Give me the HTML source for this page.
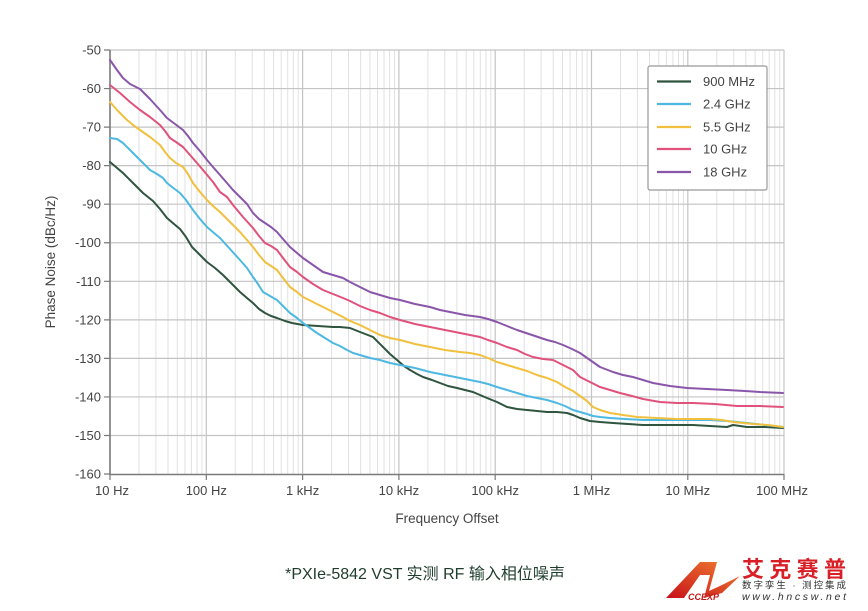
<!DOCTYPE html>
<html><head><meta charset="utf-8"><style>
html,body{margin:0;padding:0;background:#fff;}
body{width:868px;height:611px;overflow:hidden;position:relative;}
svg{position:absolute;left:0;top:0;}
</style></head><body>
<svg width="868" height="611" viewBox="0 0 868 611" xmlns="http://www.w3.org/2000/svg" font-family="'Liberation Sans', 'Noto Sans CJK SC', sans-serif">
<rect x="0" y="0" width="868" height="611" fill="#fff"/>
<!-- minor vertical grid -->
<path stroke="#e2e2e2" stroke-width="1" fill="none" d="
M139,50V474 M155.9,50V474 M168,50V474 M177.3,50V474 M184.9,50V474 M191.4,50V474 M197,50V474 M201.9,50V474
M235.3,50V474 M252.2,50V474 M264.3,50V474 M273.6,50V474 M281.2,50V474 M287.7,50V474 M293.3,50V474 M298.2,50V474
M331.6,50V474 M348.5,50V474 M360.6,50V474 M369.9,50V474 M377.5,50V474 M384,50V474 M389.6,50V474 M394.5,50V474
M427.9,50V474 M444.8,50V474 M456.9,50V474 M466.2,50V474 M473.8,50V474 M480.3,50V474 M485.9,50V474 M490.8,50V474
M524.2,50V474 M541.1,50V474 M553.2,50V474 M562.5,50V474 M570.1,50V474 M576.6,50V474 M582.2,50V474 M587.1,50V474
M620.5,50V474 M637.4,50V474 M649.5,50V474 M658.8,50V474 M666.4,50V474 M672.9,50V474 M678.5,50V474 M683.4,50V474
M716.8,50V474 M733.7,50V474 M745.8,50V474 M755.1,50V474 M762.7,50V474 M769.2,50V474 M774.8,50V474 M779.7,50V474"/>
<!-- major grid -->
<path stroke="#c4c4c4" stroke-width="1.2" fill="none" d="
M206.3,50V474 M302.6,50V474 M398.9,50V474 M495.2,50V474 M591.5,50V474 M687.8,50V474 M784,50V474
M110,88.55H784 M110,127.1H784 M110,165.65H784 M110,204.2H784 M110,242.75H784 M110,281.3H784 M110,319.85H784 M110,358.4H784 M110,396.95H784 M110,435.5H784 M110,50H784"/>
<!-- axes -->
<path stroke="#7a7a7a" stroke-width="1.6" fill="none" d="M110,50V474.5H784"/>
<path stroke="#7a7a7a" stroke-width="1.2" fill="none" d="
M104,50H110 M104,88.55H110 M104,127.1H110 M104,165.65H110 M104,204.2H110 M104,242.75H110 M104,281.3H110 M104,319.85H110 M104,358.4H110 M104,396.95H110 M104,435.5H110 M104,474H110
M110,474V480 M206.3,474V480 M302.6,474V480 M398.9,474V480 M495.2,474V480 M591.5,474V480 M687.8,474V480 M784,474V480"/>
<!-- y labels -->
<g font-size="13" fill="#444" text-anchor="end">
<text x="101" y="54.5">-50</text>
<text x="101" y="93">-60</text>
<text x="101" y="131.6">-70</text>
<text x="101" y="170.1">-80</text>
<text x="101" y="208.7">-90</text>
<text x="101" y="247.2">-100</text>
<text x="101" y="285.8">-110</text>
<text x="101" y="324.3">-120</text>
<text x="101" y="362.9">-130</text>
<text x="101" y="401.4">-140</text>
<text x="101" y="440">-150</text>
<text x="101" y="478.5">-160</text>
</g>
<g font-size="13" fill="#444" text-anchor="middle">
<text x="112" y="495">10 Hz</text>
<text x="206.3" y="495">100 Hz</text>
<text x="302.6" y="495">1 kHz</text>
<text x="398.9" y="495">10 kHz</text>
<text x="495.2" y="495">100 kHz</text>
<text x="591.5" y="495">1 MHz</text>
<text x="687.8" y="495">10 MHz</text>
<text x="782" y="495">100 MHz</text>
<text x="447" y="523" font-size="13.5">Frequency Offset</text>
<text x="0" y="0" font-size="13.5" transform="translate(55,262) rotate(-90)">Phase Noise (dBc/Hz)</text>
</g>
<!-- series -->
<g fill="none" stroke-width="2" stroke-linejoin="round" stroke-linecap="round">
<polyline stroke="#2f5540" points="110,162 123,173 133,183 143,193 153,201 160,209 167,218 174,224 180,229 186,237 192,247 200,255 207,262 215,268 223,275 232,284 240,292 247,298 253,303 259,309 265,313 271,316 277,318 285,321 292,323 303,325 318,326 333,327 340,327 350,328 360,332 373,337 383,347 390,354 397,360 404,366 410,370 417,374 423,377 432,380 440,383 448,386 457,388 465,390 473,392 480,395 487,398 497,402 507,407 517,409 527,410 537,411 547,412 557,412 567,413 573,415 580,418 590,421 600,422 613,423 628,424 643,425 660,425 677,425 693,425 710,426 727,427 733,425 740,426 747,427 765,427 783,428"/>
<polyline stroke="#4db9e2" points="110,138 117,139 123,143 130,150 137,157 143,163 150,170 157,174 163,178 167,183 172,187 180,193 186,200 193,210 200,219 207,227 214,233 220,238 230,249 240,260 247,268 253,277 258,284 263,292 270,296 277,300 283,306 290,313 297,318 303,323 310,328 317,333 325,338 333,343 340,346 347,350 353,353 360,355 370,358 380,360 390,363 400,365 415,368 430,372 445,375 460,378 470,380 480,382 488,384 497,387 507,390 517,393 527,396 537,398 547,400 557,403 565,406 573,410 580,412 587,414 593,416 600,417 610,418 625,419 643,420 660,420 677,420 693,420 710,420 727,421 737,422 747,423 765,425 783,427"/>
<polyline stroke="#f0c03e" points="110,102 118,111 127,120 133,125 140,130 150,137 160,145 165,152 170,158 176,163 183,167 188,174 193,183 200,192 207,200 213,206 220,212 230,222 240,232 247,240 253,247 259,255 265,262 271,266 277,270 283,278 290,287 297,292 303,297 313,302 323,307 333,312 343,317 350,321 360,325 370,330 380,335 390,338 400,340 415,344 430,347 445,350 460,352 470,353 480,355 488,358 497,362 507,365 517,368 527,371 537,375 547,378 557,382 565,387 573,391 580,396 587,401 593,407 600,410 610,413 623,415 637,417 657,418 677,419 693,419 710,419 722,420 733,422 743,423 753,424 768,425 783,427"/>
<polyline stroke="#e0527c" points="110,85 120,93 130,102 140,110 150,117 160,125 165,131 170,138 176,142 183,147 190,155 197,163 203,170 213,182 220,192 227,197 233,205 243,217 253,228 259,236 265,243 271,246 277,250 283,258 290,267 297,272 303,277 313,284 323,290 333,294 343,298 350,301 360,306 370,310 380,313 390,317 400,320 415,324 430,327 445,330 460,333 470,335 480,337 488,340 497,343 507,347 517,350 525,354 533,357 543,359 553,360 563,365 573,370 580,377 590,382 600,387 610,390 620,393 632,396 643,399 660,402 677,403 693,403 715,404 737,406 760,406 783,407"/>
<polyline stroke="#8a56aa" points="110,60 117,70 123,78 130,84 140,89 150,99 160,110 167,118 175,124 183,130 188,136 193,143 200,151 207,160 213,167 220,175 227,183 233,190 240,197 247,204 253,213 259,219 265,223 271,227 277,232 283,239 290,247 297,253 303,258 313,265 323,272 333,275 343,278 350,282 360,287 370,292 380,295 390,298 400,300 415,304 430,307 440,310 450,312 465,315 480,317 488,319 497,322 507,326 517,330 532,335 547,340 555,342 563,345 572,349 580,353 590,360 600,367 613,372 623,375 633,377 643,380 653,383 670,386 687,388 707,389 727,390 745,391 760,392 783,393"/>
</g>
<!-- legend -->
<rect x="648" y="66" width="119" height="124" rx="2" fill="#fff" stroke="#999" stroke-width="1.2"/>
<g stroke-width="2.2">
<line x1="657" y1="81.5" x2="691" y2="81.5" stroke="#2f5540"/>
<line x1="657" y1="104" x2="691" y2="104" stroke="#4db9e2"/>
<line x1="657" y1="127" x2="691" y2="127" stroke="#f0c03e"/>
<line x1="657" y1="149" x2="691" y2="149" stroke="#e0527c"/>
<line x1="657" y1="172" x2="691" y2="172" stroke="#8a56aa"/>
</g>
<g font-size="13" fill="#444">
<text x="703" y="86">900 MHz</text>
<text x="703" y="108.5">2.4 GHz</text>
<text x="703" y="131.5">5.5 GHz</text>
<text x="703" y="153.5">10 GHz</text>
<text x="703" y="176.5">18 GHz</text>
</g>
<!-- caption -->
<text x="425" y="579" font-size="16" fill="#1f3d2d" text-anchor="middle">*PXIe-5842 VST 实测 RF 输入相位噪声</text>
<!-- logo -->
<defs><linearGradient id="lg" x1="0" y1="1" x2="1" y2="0"><stop offset="0" stop-color="#c8101a"/><stop offset="1" stop-color="#f08030"/></linearGradient></defs>
<path d="M666,598 L700,562 L717,562 L709,591 L722,585 L740,576 L722,593 L704,598 L710,575 L700,575 L684,598 Z" fill="url(#lg)"/>
<text x="688" y="600" font-size="9" font-weight="bold" font-style="italic" fill="#c01818">CCEXP</text>
<text x="742" y="577" font-size="22" font-weight="bold" fill="#d91f26" textLength="104" lengthAdjust="spacing">艾克赛普</text>
<text x="742" y="588.5" font-size="9.5" fill="#333" textLength="104" lengthAdjust="spacing">数字孪生 · 测控集成</text>
<text x="742" y="600" font-size="10.5" fill="#333" font-style="italic" textLength="104" lengthAdjust="spacing">www.hncsw.net</text>
</svg>
</body></html>
